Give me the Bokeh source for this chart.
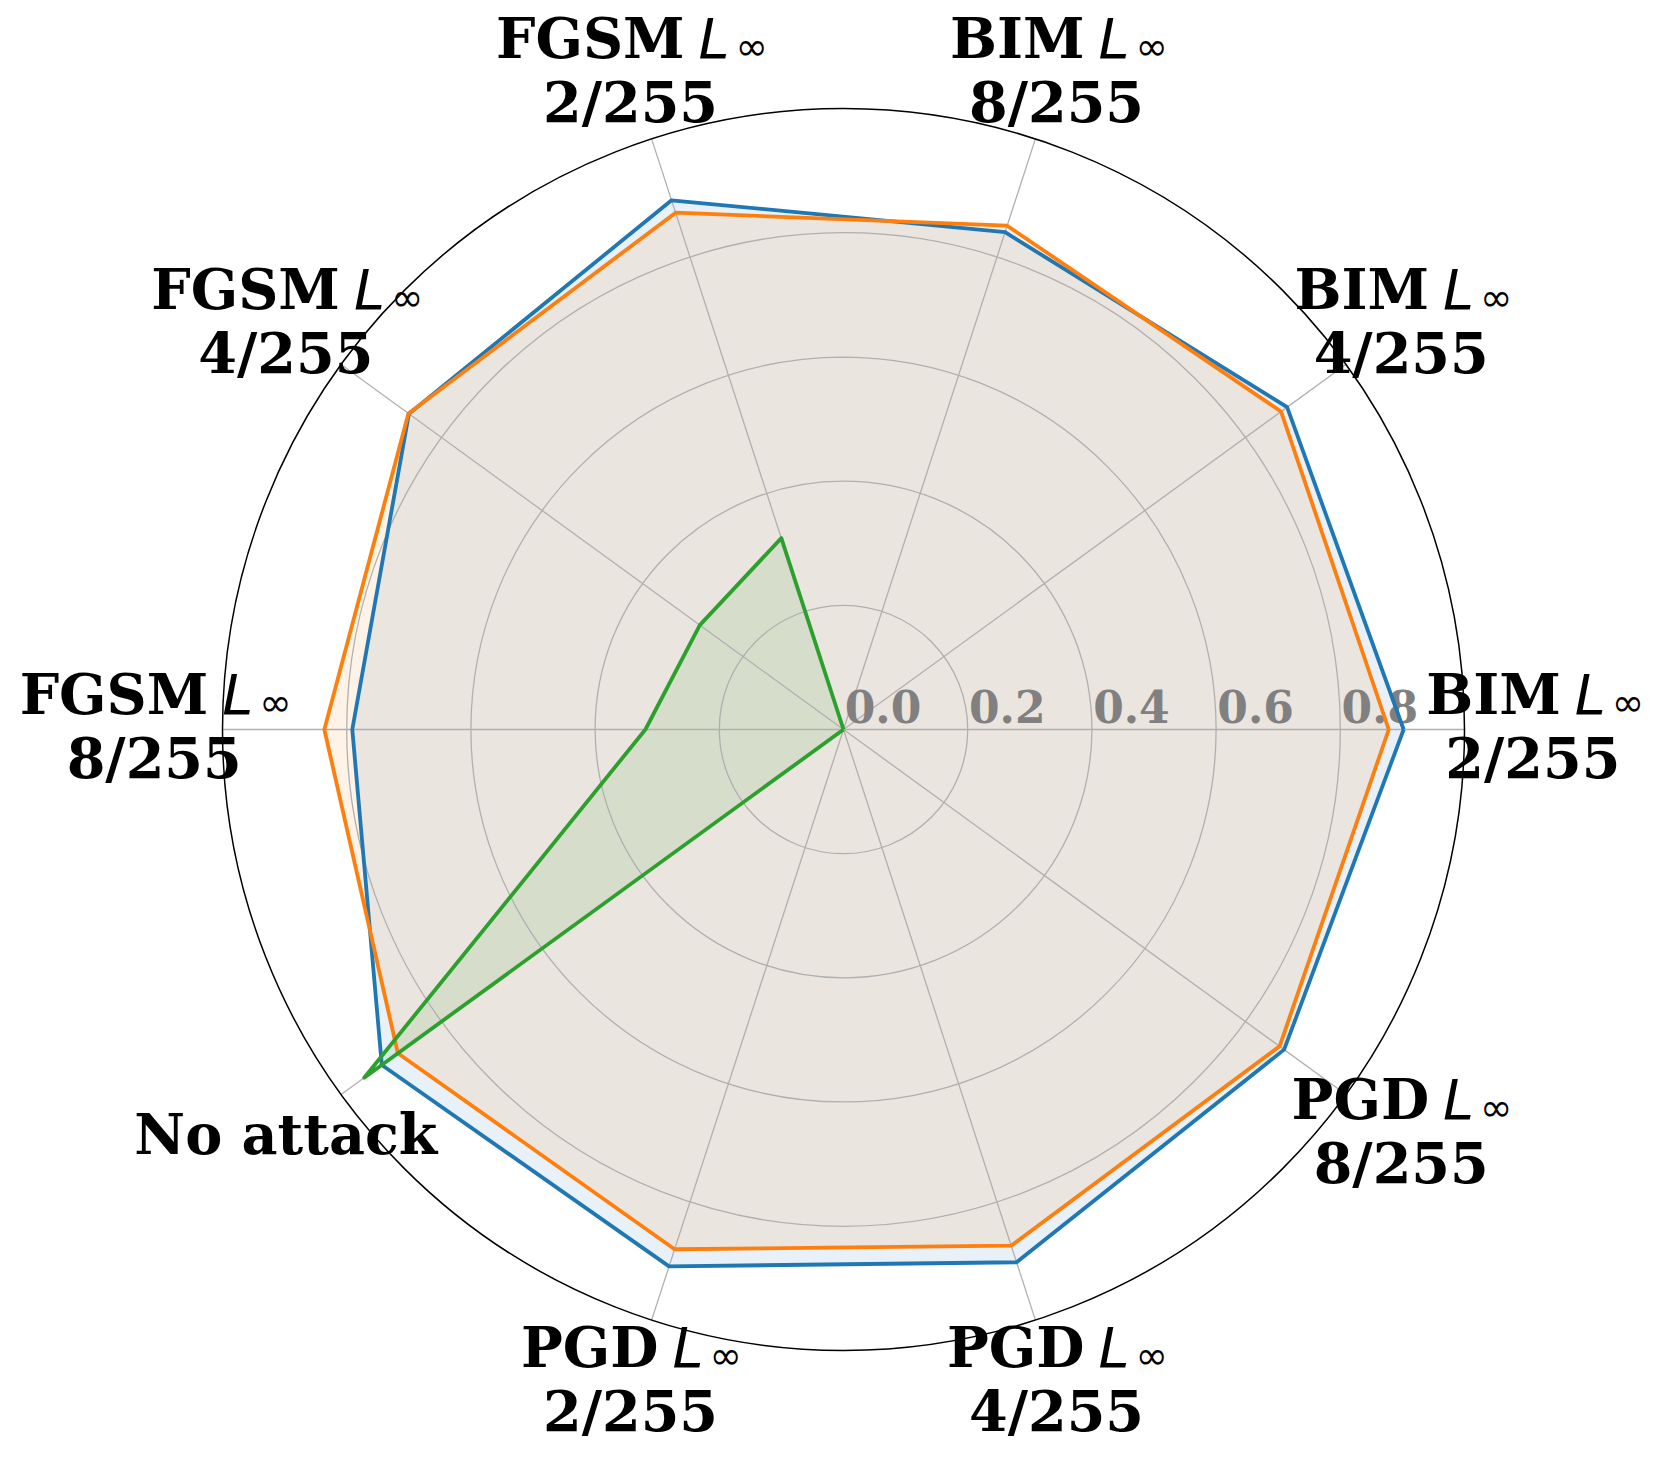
import numpy as np
from bokeh.plotting import figure
from bokeh.models import Range1d
from bokeh.core.properties import value
from bokeh.embed import file_html
from bokeh.resources import INLINE

# ---------------- data ----------------
categories = ["BIM L∞ 2/255", "BIM L∞ 4/255", "BIM L∞ 8/255",
              "FGSM L∞ 2/255", "FGSM L∞ 4/255", "FGSM L∞ 8/255",
              "No attack",
              "PGD L∞ 2/255", "PGD L∞ 4/255", "PGD L∞ 8/255"]
series_blue = [0.902, 0.883, 0.842, 0.896, 0.865, 0.791, 0.919, 0.909, 0.902, 0.877]
series_orange = [0.878, 0.871, 0.853, 0.875, 0.866, 0.836, 0.887, 0.880, 0.874, 0.868]
series_green = [0.0, 0.0, 0.0, 0.324, 0.286, 0.319, 0.954, 0.0, 0.0, 0.0]
radial_ticks = [0.0, 0.2, 0.4, 0.6, 0.8]
radial_tick_labels = ["0.0", "0.2", "0.4", "0.6", "0.8"]
r_max = 1.0

colors = ["#1f77b4", "#ff7f0e", "#2ca02c"]
all_series = [series_blue, series_orange, series_green]

# ---------------- layout ----------------
W, H = 1644, 1445
PX = 621.0            # pixels per radial unit
cx_px, cy_px = 843, 729
SERIF = value("DejaVu Serif")
SANS = value("DejaVu Sans")
FS = 55.6
LBL_SHIFT = 19 / PX   # baseline correction for label text
TICK_SHIFT = 16 / PX

p = figure(width=W, height=H, output_backend="svg", toolbar_location=None,
           x_range=Range1d(-cx_px / PX, (W - cx_px) / PX),
           y_range=Range1d(-(H - cy_px) / PX, cy_px / PX),
           x_axis_location=None, y_axis_location=None,
           min_border=0, outline_line_color=None,
           background_fill_color="white", border_fill_color="white")
p.xgrid.grid_line_color = None
p.ygrid.grid_line_color = None

n = len(categories)
theta = np.arange(n) * 2 * np.pi / n

# fills
for vals, c in zip(all_series, colors):
    v = np.array(vals)
    p.patch(v * np.cos(theta), v * np.sin(theta), fill_color=c, fill_alpha=0.1,
            line_color=None)

# grid
grid_col = "#b0b0b0"
for r in radial_ticks[1:]:
    p.circle(x=[0], y=[0], radius=r, fill_color=None, line_color=grid_col, line_width=1.3)
for t in theta:
    p.line([0, r_max * np.cos(t)], [0, r_max * np.sin(t)], line_color=grid_col, line_width=1.3)

# radial tick labels
p.text(x=[r + 0.002 for r in radial_ticks], y=[7.5 / PX + TICK_SHIFT] * len(radial_ticks),
       text=radial_tick_labels, text_font=SERIF, text_font_style="bold",
       text_font_size="44px", text_color="#808080", text_align="left",
       text_baseline="alphabetic")

# series lines
for vals, c in zip(all_series, colors):
    v = np.array(list(vals) + [vals[0]])
    tt = np.append(theta, theta[0])
    p.line(v * np.cos(tt), v * np.sin(tt), line_color=c, line_width=3.8,
           line_join="round")

# outer circle
p.circle(x=[0], y=[0], radius=r_max, fill_color=None, line_color="black", line_width=1.5)

# category labels
char_em = {"B": 0.80, "I": 0.47, "M": 1.12, "F": 0.72, "G": 0.80, "S": 0.69,
           "P": 0.76, "D": 0.83}
LABEL_R = 1.11
for cat, t in zip(categories, theta):
    ax, ay = LABEL_R * np.cos(t), LABEL_R * np.sin(t)
    # keep the lowest labels a touch away from the bottom edge
    extra = 3 / PX if np.sin(t) < -0.9 else 0.0
    if "L∞" in cat:
        word, rest = cat.split(" L∞ ")
        w_word = sum(char_em.get(ch, 0.7) for ch in word) * FS
        dL = (w_word + 21 - 60) / 2.0
        y1 = ay + 16 / PX + LBL_SHIFT + extra
        y2 = ay - 48 / PX + LBL_SHIFT + extra
        p.text(x=[ax + (dL - 19) / PX], y=[y1], text=[word], text_font=SERIF,
               text_font_style="bold", text_font_size=f"{FS}px", text_color="black",
               text_align="right", text_baseline="alphabetic")
        p.text(x=[ax + (dL - 5) / PX], y=[y1], text=["L"], text_font=SANS,
               text_font_style="italic", text_font_size=f"{FS}px", text_color="black",
               text_align="left", text_baseline="alphabetic")
        p.text(x=[ax + (dL + 32) / PX], y=[y1 - 8 / PX], text=["∞"], text_font=SANS,
               text_font_size="39px", text_color="black",
               text_align="left", text_baseline="alphabetic")
        p.text(x=[ax], y=[y2], text=[rest], text_font=SERIF, text_font_style="bold",
               text_font_size=f"{FS}px", text_color="black", text_align="center",
               text_baseline="alphabetic")
    else:
        p.text(x=[ax], y=[ay - 19 / PX + LBL_SHIFT], text=[cat], text_font=SERIF,
               text_font_style="bold", text_font_size=f"{FS}px", text_color="black",
               text_align="center", text_baseline="alphabetic")

open("out.html", "w").write(file_html(p, INLINE))
